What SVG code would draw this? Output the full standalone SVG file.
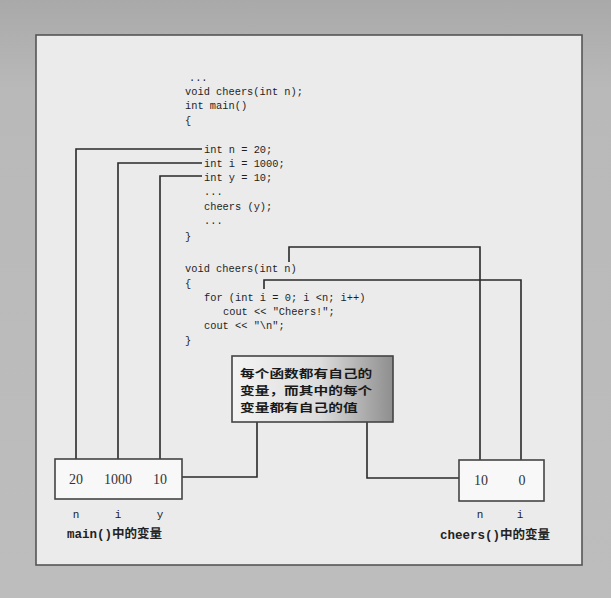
<svg xmlns="http://www.w3.org/2000/svg" width="611" height="598" viewBox="0 0 611 598">
<defs>
<linearGradient id="bg" x1="0" y1="0" x2="0" y2="1">
<stop offset="0" stop-color="#a9a9a9"/><stop offset="0.15" stop-color="#b9b9b9"/><stop offset="1" stop-color="#bdbdbd"/>
</linearGradient>
<linearGradient id="call" x1="0" y1="0" x2="1" y2="0">
<stop offset="0" stop-color="#f4f4f4"/><stop offset="0.55" stop-color="#dcdcdc"/><stop offset="1" stop-color="#8e8e8e"/>
</linearGradient>
<style>
.code{font-family:"Liberation Mono","DejaVu Sans Mono",monospace;font-size:11.5px;fill:#1e1e1e}
.wire{fill:none;stroke:#2a2a2a;stroke-width:1.6}
.box{fill:#f8f8f8;stroke:#444;stroke-width:1.6}
.val{font-family:"Liberation Serif",serif;font-size:14px;fill:#333;text-anchor:middle}
.lbl{font-family:"Liberation Mono",monospace;font-size:11px;fill:#222;text-anchor:middle}
.cap{font-family:"Liberation Mono","Noto Sans CJK SC",monospace;font-size:12.5px;font-weight:bold;fill:#222}
.cjk{font-family:"Noto Sans CJK SC",sans-serif;font-size:11.5px;font-weight:bold;fill:#1a1a1a}
</style>
</defs>
<rect width="611" height="598" fill="url(#bg)"/>
<rect x="36" y="35" width="546" height="530" fill="#ebebeb" stroke="#555" stroke-width="1.6"/>
<g id="code" transform="translate(185,0) scale(0.9,1)">
<text class="code" x="4.4" y="81">...</text>
<text class="code" x="0" y="95">void cheers(int n);</text>
<text class="code" x="0" y="109">int main()</text>
<text class="code" x="0" y="124">{</text>
<text class="code" x="21.1" y="153">int n = 20;</text>
<text class="code" x="21.1" y="167">int i = 1000;</text>
<text class="code" x="21.1" y="181">int y = 10;</text>
<text class="code" x="21.1" y="195">...</text>
<text class="code" x="21.1" y="210">cheers (y);</text>
<text class="code" x="21.1" y="224">...</text>
<text class="code" x="0" y="240">}</text>
<text class="code" x="0" y="272">void cheers(int n)</text>
<text class="code" x="0" y="287">{</text>
<text class="code" x="21.1" y="301">for (int i = 0; i &lt;n; i++)</text>
<text class="code" x="42.2" y="315">cout &lt;&lt; "Cheers!";</text>
<text class="code" x="21.1" y="329">cout &lt;&lt; "\n";</text>
<text class="code" x="0" y="344">}</text>
</g>
<g id="connectors">
<polyline class="wire" points="202,149 76,149 76,459"/>
<polyline class="wire" points="202,163 118,163 118,459"/>
<polyline class="wire" points="202,176 160,176 160,459"/>
<polyline class="wire" points="289,262 289,247 480,247 480,460"/>
<polyline class="wire" points="264,289 264,280 521,280 521,460"/>
<polyline class="wire" points="182,477 257,477 257,422"/>
<polyline class="wire" points="367,422 367,478 459,478"/>
</g>
<g id="callout">
<rect x="232" y="356" width="161" height="66" fill="url(#call)" stroke="#444" stroke-width="1.6"/>
<g transform="translate(240,0) scale(1.28,1)">
<text class="cjk" x="0" y="378">每个函数都有自己的</text>
<text class="cjk" x="0" y="395">变量，而其中的每个</text>
<text class="cjk" x="0" y="412">变量都有自己的值</text>
</g>
</g>
<g id="main-vars">
<rect class="box" x="55" y="459" width="127" height="40"/>
<text class="val" x="76" y="484">20</text>
<text class="val" x="118" y="484">1000</text>
<text class="val" x="160" y="484">10</text>
<text class="lbl" x="76" y="518">n</text>
<text class="lbl" x="118" y="518">i</text>
<text class="lbl" x="160" y="518">y</text>
<text class="cap" x="67" y="538">main()中的变量</text>
</g>
<g id="cheers-vars">
<rect class="box" x="459" y="460" width="85" height="41"/>
<text class="val" x="481" y="485">10</text>
<text class="val" x="522" y="485">0</text>
<text class="lbl" x="480" y="518">n</text>
<text class="lbl" x="520" y="518">i</text>
<text class="cap" x="440" y="539">cheers()中的变量</text>
</g>
</svg>
